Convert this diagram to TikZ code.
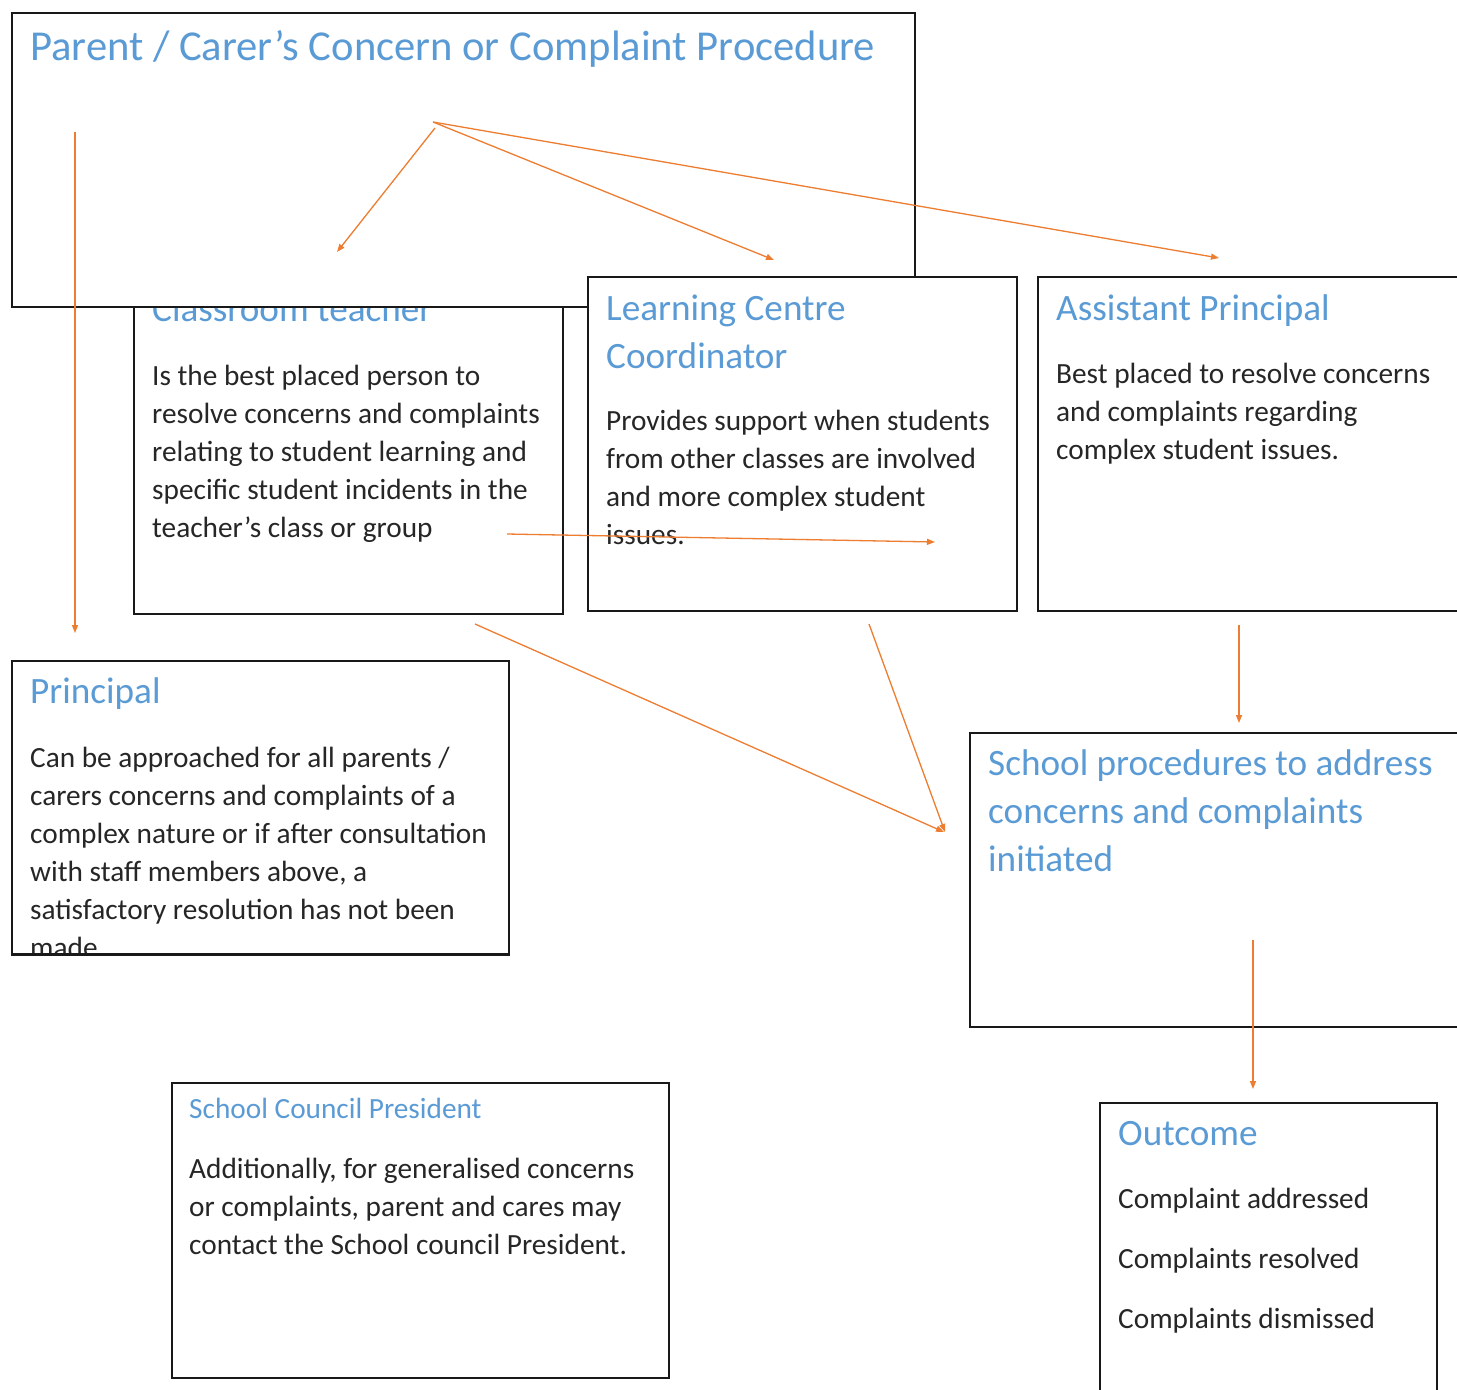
\documentclass[tikz,border=0pt]{standalone}
\usepackage{fontspec}
\setmainfont{Carlito}
\usetikzlibrary{arrows.meta}
\definecolor{hblue}{HTML}{5B9BD5}
\definecolor{arr}{HTML}{ED7D31}
\definecolor{txt}{HTML}{262626}
\begin{document}
\begin{tikzpicture}[x=1pt,y=-1pt,
  box/.style={draw=black!90,line width=1.6pt,fill=white,anchor=north west,inner sep=0pt},
  head/.style={text=hblue,font=\fontsize{37.2}{48}\selectfont,anchor=base west,inner sep=0pt,align=left},
  small head/.style={text=hblue,font=\fontsize{29.3}{38}\selectfont,anchor=base west,inner sep=0pt,align=left},
  ttl/.style={text=hblue,font=\fontsize{42.6}{50}\selectfont,anchor=base west,inner sep=0pt},
  body/.style={text=txt,font=\fontsize{29.3}{38}\selectfont,anchor=base west,inner sep=0pt,align=left},
  conn/.style={draw=arr,line width=1.3pt,-{Triangle[length=8pt,width=6pt]}}]
\clip (0,0) rectangle (1457,1390);
\fill[white] (0,0) rectangle (1457,1390);

% Classroom teacher (partly hidden by the title box)
\node[box,minimum width=429pt,minimum height=343pt] (ct) at (133,270) {};
\node[head] (cth) at (152,321) {Classroom teacher};
\node[body] (ctb) at (152,537) {Is the best placed person to\\resolve concerns and complaints\\relating to student learning and\\specific student incidents in the\\teacher’s class or group};

% Title box
\node[box,minimum width=903pt,minimum height=294pt] (title) at (11,12) {};
\node[ttl] (tt) at (30,60) {Parent / Carer’s Concern or Complaint Procedure};

% Learning Centre Coordinator
\node[box,minimum width=429pt,minimum height=334pt] (lcc) at (587,276) {};
\node[head] (lcch) at (606,368) {Learning Centre\\Coordinator};
\node[body] (lccb) at (606,544) {Provides support when students\\from other classes are involved\\and more complex student\\issues.};

% Assistant Principal
\node[box,minimum width=440pt,minimum height=334pt] (ap) at (1037,276) {};
\node[head] (aph) at (1056,320) {Assistant Principal};
\node[body] (apb) at (1056,459) {Best placed to resolve concerns\\and complaints regarding\\complex student issues.};

% Principal
\node[box,minimum width=497pt,minimum height=294pt] (pr) at (11,660) {};
\begin{scope}
\clip (11,660) rectangle (508,954);
\node[head] (prh) at (30,703) {Principal};
\node[body] (prb) at (30,957) {Can be approached for all parents /\\carers concerns and complaints of a\\complex nature or if after consultation\\with staff members above, a\\satisfactory resolution has not been\\made.};
\end{scope}
\draw[black!90,line width=1.6pt] (11,954) -- (508,954);

% School procedures
\node[box,minimum width=510pt,minimum height=294pt] (sp) at (969,732) {};
\node[head] (sph) at (988,871) {School procedures to address\\concerns and complaints\\initiated};

% School Council President
\node[box,minimum width=497pt,minimum height=295pt] (scp) at (171,1082) {};
\node[small head] (scph) at (189,1118) {School Council President};
\node[body] (scpb) at (189,1254) {Additionally, for generalised concerns\\or complaints, parent and cares may\\contact the School council President.};

% Outcome
\node[box,minimum width=337pt,minimum height=320pt] (out) at (1099,1102) {};
\node[head] (outh) at (1118,1145) {Outcome};
\node[body,font=\fontsize{29.3}{60}\selectfont] (outb) at (1118,1328) {Complaint addressed\\Complaints resolved\\Complaints dismissed};

% Connector end points
\coordinate (s1) at (75,132);   \coordinate (e1) at (75,633);
\coordinate (hub) at (433,122);
\coordinate (hub2) at (435,128);
\coordinate (e2) at (337,252);
\coordinate (e3) at (774,260);
\coordinate (e4) at (1219,258);
\coordinate (s5) at (507,534);  \coordinate (e5) at (935,542);
\coordinate (s6) at (475,624);  \coordinate (e6) at (944,832);
\coordinate (s7) at (869,624);  \coordinate (e7) at (945,832);
\coordinate (s8) at (1239,625); \coordinate (e8) at (1239,723);
\coordinate (s9) at (1253,940); \coordinate (e9) at (1253,1089);

\draw[conn] (s1) -- (e1);
\draw[conn] (hub2) -- (e2);
\draw[conn] (hub) -- (e3);
\draw[conn] (hub) -- (e4);
\draw[conn] (s5) -- (e5);
\draw[conn] (s6) -- (e6);
\draw[conn] (s7) -- (e7);
\draw[conn] (s8) -- (e8);
\draw[conn] (s9) -- (e9);
\end{tikzpicture}
\end{document}
